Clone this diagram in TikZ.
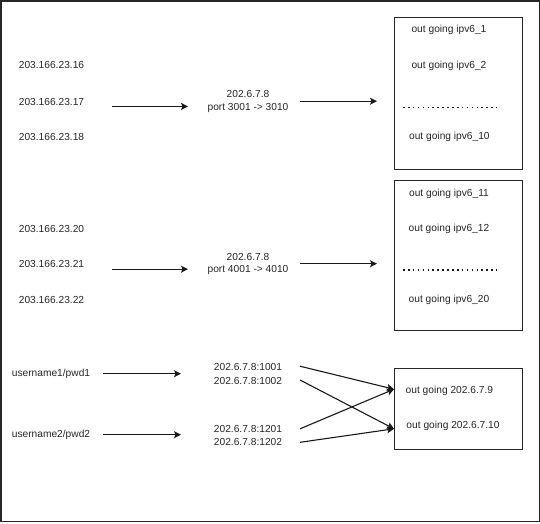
\documentclass[tikz,border=0pt]{standalone}
\usepackage{fontspec}
\setmainfont{Liberation Sans}
\usetikzlibrary{arrows.meta}
\begin{document}
\begin{tikzpicture}[x=1pt,y=-1pt,
  lbl/.style={inner sep=0pt, font=\fontsize{10.2}{12.2}\selectfont, text=black!85, align=center},
  boxn/.style={draw=black!85, line width=1pt, inner sep=0pt},
  arr/.style={draw=black!90, line width=1.1pt, -{Stealth[length=7pt,width=7pt,inset=1.5pt]}},
  dotl/.style={draw=black!90, line width=1.8pt, dash pattern=on 1.6pt off 3.3pt}]
\useasboundingbox (0,0) rectangle (540,523);
\draw[line width=1.5pt, black!85] (0.75,0.75) rectangle (539.25,521.5);

% section 1
\node[boxn, minimum width=128pt, minimum height=152pt] (b1) at (458,93) {};
\node[lbl] (a16) at (51.5,65.4) {203.166.23.16};
\node[lbl] (a17) at (51.5,101.6) {203.166.23.17};
\node[lbl] (a18) at (51.5,136.7) {203.166.23.18};
\node[lbl] (m1) at (248,101.5) {202.6.7.8\\port 3001 -> 3010};
\node[lbl] (o1) at (449,30) {out going ipv6\_1};
\node[lbl] (o2) at (449,65.4) {out going ipv6\_2};
\node[lbl] (o10) at (449.4,136.7) {out going ipv6\_10};
\coordinate (d1s) at (403,107.4);
\coordinate (d1e) at (497,107.4);
\draw[dotl] (d1s) -- (d1e);
\coordinate (p1a) at (112,106.4);
\coordinate (p1b) at (188,106.4);
\coordinate (p1c) at (300,101.2);
\coordinate (p1d) at (377,101.2);
\draw[arr] (p1a) -- (p1b);
\draw[arr] (p1c) -- (p1d);

% section 2
\node[boxn, minimum width=128pt, minimum height=150pt] (b2) at (458,255) {};
\node[lbl] (a20) at (51.5,228.5) {203.166.23.20};
\node[lbl] (a21) at (51.5,263.7) {203.166.23.21};
\node[lbl] (a22) at (51.5,299.8) {203.166.23.22};
\node[lbl] (m2) at (248,264.3) {202.6.7.8\\port 4001 -> 4010};
\node[lbl] (o11) at (449,194) {out going ipv6\_11};
\node[lbl] (o12) at (449,228.5) {out going ipv6\_12};
\node[lbl] (o20) at (449,299.8) {out going ipv6\_20};
\coordinate (d2s) at (403,270.2);
\coordinate (d2e) at (497,270.2);
\draw[dotl] (d2s) -- (d2e);
\coordinate (p2a) at (112,269.2);
\coordinate (p2b) at (188,269.2);
\coordinate (p2c) at (300,263.7);
\coordinate (p2d) at (377,263.7);
\draw[arr] (p2a) -- (p2b);
\draw[arr] (p2c) -- (p2d);

% section 3
\node[boxn, minimum width=128pt, minimum height=81pt] (b3) at (458,408.5) {};
\node[lbl] (u1) at (51,373.7) {username1/pwd1};
\node[lbl] (u2) at (51,434.7) {username2/pwd2};
\node[lbl] (k1) at (248,366.9) {202.6.7.8:1001};
\node[lbl] (k2) at (248,380.6) {202.6.7.8:1002};
\node[lbl] (k3) at (248,428.8) {202.6.7.8:1201};
\node[lbl] (k4) at (248,442.3) {202.6.7.8:1202};
\node[lbl] (g9) at (449.4,391) {out going 202.6.7.9};
\node[lbl] (g10) at (453,426) {out going 202.6.7.10};
\coordinate (q1a) at (103,373.7);
\coordinate (q1b) at (181,373.7);
\coordinate (q2a) at (103,434.7);
\coordinate (q2b) at (181,434.7);
\draw[arr] (q1a) -- (q1b);
\draw[arr] (q2a) -- (q2b);
\coordinate (s1) at (300,366.2);
\coordinate (s2) at (300,380);
\coordinate (s3) at (300,428.8);
\coordinate (s4) at (300,442.3);
\coordinate (t9) at (394,389.2);
\coordinate (t10) at (394,428.8);
\draw[arr] (s1) -- (t9);
\draw[arr] (s2) -- (t10);
\draw[arr] (s3) -- (t9);
\draw[arr] (s4) -- (t10);
\end{tikzpicture}
\end{document}
